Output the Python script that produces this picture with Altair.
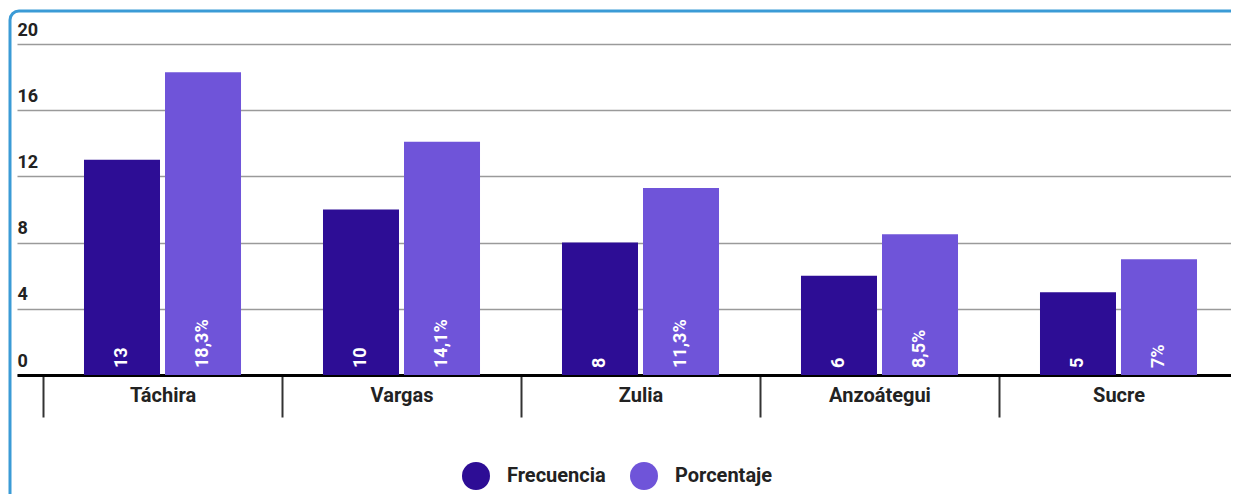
import altair as alt
import pandas as pd

# ---- data ----
estados = ["Táchira", "Vargas", "Zulia", "Anzoátegui", "Sucre"]
frecuencia = [13, 10, 8, 6, 5]
porcentaje = [18.3, 14.1, 11.3, 8.5, 7.0]
series = ["Frecuencia", "Porcentaje"]
colores = ["#2d0d95", "#6f54d9"]
y_ticks = [0, 4, 8, 12, 16, 20]


def fmt_pct(v):
    return f"{v:g}".replace(".", ",") + "%"


rows = []
for i, e in enumerate(estados):
    rows.append({"estado": e, "serie": series[0], "valor": frecuencia[i],
                 "etiqueta": str(frecuencia[i]), "cero": 0})
    rows.append({"estado": e, "serie": series[1], "valor": porcentaje[i],
                 "etiqueta": fmt_pct(porcentaje[i]), "cero": 0})
df = pd.DataFrame(rows)

W, H = 1214, 331          # visible plot area (svg total width 1223)
XR = 1221                 # full band range (extends slightly past the page)
FONT = "Roboto"
TXT = "#222222"

x_enc = alt.X(
    "estado:N", sort=estados, title=None,
    scale=alt.Scale(paddingInner=0, paddingOuter=0.0544, align=1, range=[0, XR]),
    axis=alt.Axis(labelAngle=0, labelFont=FONT, labelFontSize=20,
                  labelFontWeight="bold", labelColor=TXT,
                  domainColor="#000000", domainWidth=3,
                  tickBand="extent", tickSize=42, tickWidth=2,
                  tickColor="#333333", labelPadding=-32, grid=False),
)
xo_enc = alt.XOffset("serie:N", sort=series,
                     scale=alt.Scale(paddingInner=0.0617, paddingOuter=0.506))
y_enc = alt.Y(
    "valor:Q", title=None,
    scale=alt.Scale(domain=[0, 20], nice=False),
    axis=alt.Axis(values=y_ticks, ticks=False, domain=False,
                  labelAlign="left", labelBaseline="bottom", labelPadding=0,
                  labelOffset=-5, labelFont=FONT, labelFontSize=18,
                  labelFontWeight="bold", labelColor=TXT,
                  gridColor="#9a9a9a", gridWidth=1.5),
)
color_enc = alt.Color(
    "serie:N", sort=series,
    scale=alt.Scale(domain=series, range=colores),
    legend=alt.Legend(title=None, orient="none", legendX=445, legendY=418,
                      direction="horizontal", symbolType="circle",
                      symbolSize=784, symbolStrokeWidth=0, symbolOpacity=1,
                      labelFont=FONT, labelFontSize=20, labelFontWeight="bold",
                      labelColor=TXT, labelOffset=17, columnPadding=24),
)

frame = alt.Chart(pd.DataFrame({"k": [0]})).mark_rect(
    filled=False, stroke="#3b9bd6", strokeWidth=3, cornerRadius=9
).encode(x=alt.value(-7), x2=alt.value(W + 60),
         y=alt.value(-33), y2=alt.value(H + 200))

bars = alt.Chart(df).mark_bar().encode(
    x=x_enc, xOffset=xo_enc, y=y_enc, color=color_enc
)

labels = alt.Chart(df).mark_text(
    angle=270, align="left", baseline="middle", dx=7, color="white",
    font=FONT, fontSize=18, fontWeight="bold"
).encode(
    x=alt.X("estado:N", sort=estados),
    xOffset=alt.XOffset("serie:N", sort=series),
    y=alt.Y("cero:Q"),
    text="etiqueta:N",
)

chart = alt.layer(frame, bars, labels).properties(
    width=W, height=H,
    padding={"left": 9, "top": 36, "right": 0, "bottom": 119},
    autosize="none",
).configure_view(stroke=None)

chart.save("out.html", embed_options={"renderer": "svg", "actions": False})
